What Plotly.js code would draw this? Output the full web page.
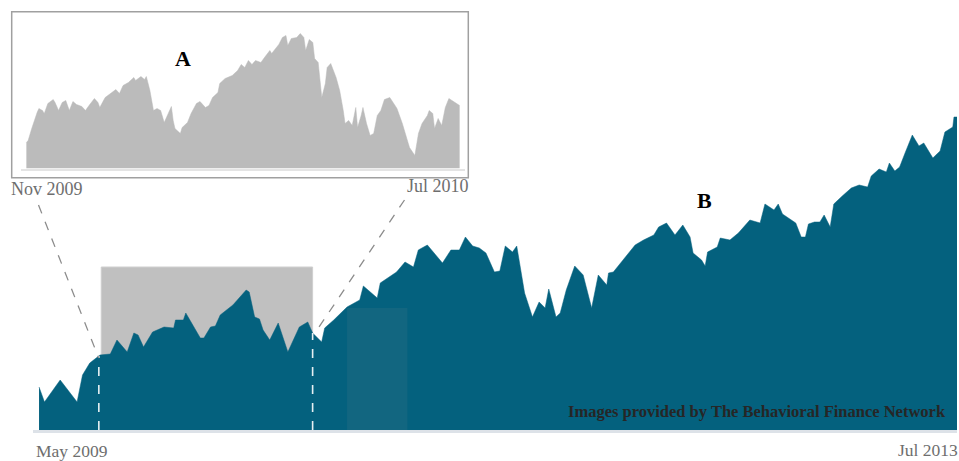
<!DOCTYPE html>
<html>
<head>
<meta charset="utf-8">
<script src="https://cdn.plot.ly/plotly-3.0.1.min.js"></script>
<style>
  html, body { margin: 0; padding: 0; background: #ffffff; }
  #chart { width: 959px; height: 461px; }
</style>
</head>
<body>
<div id="chart"></div>
<script>
// ---------- DATA ----------
const mainDates = [
  '2009-05-03','2009-05-12','2009-06-07','2009-07-05','2009-07-14','2009-07-26','2009-08-12','2009-08-29','2009-09-09','2009-09-26',
  '2009-10-07','2009-10-14','2009-10-23','2009-11-07','2009-11-26','2009-12-12','2009-12-15','2009-12-28','2010-01-01','2010-01-12',
  '2010-01-25','2010-01-31','2010-02-11','2010-02-19','2010-02-27','2010-03-20','2010-04-11','2010-04-16','2010-04-25','2010-05-03',
  '2010-05-09','2010-05-20','2010-06-03','2010-06-19','2010-07-08','2010-07-22','2010-07-30','2010-08-14','2010-08-19','2010-09-03',
  '2010-09-25','2010-10-16','2010-10-22','2010-11-14','2010-11-19','2010-12-16','2010-12-30','2011-01-13','2011-01-21','2011-02-05',
  '2011-03-02','2011-03-16','2011-03-30','2011-04-09','2011-04-21','2011-05-02','2011-05-13','2011-05-27','2011-06-05','2011-06-14',
  '2011-06-26','2011-07-03','2011-07-16','2011-07-29','2011-08-09','2011-08-19','2011-08-25','2011-09-06','2011-09-13','2011-09-23',
  '2011-10-07','2011-10-21','2011-11-04','2011-11-15','2011-11-29','2011-12-02','2011-12-10','2011-12-26','2012-01-15','2012-01-29',
  '2012-02-15','2012-02-23','2012-03-07','2012-03-21','2012-04-03','2012-04-15','2012-04-20','2012-05-04','2012-05-10','2012-05-14',
  '2012-05-30','2012-06-04','2012-06-20','2012-07-04','2012-07-23','2012-08-09','2012-08-17','2012-09-01','2012-09-08','2012-09-15',
  '2012-10-07','2012-10-16','2012-10-23','2012-10-28','2012-11-07','2012-11-16','2012-11-23','2012-12-03','2012-12-09','2012-12-23',
  '2013-01-07','2013-01-20','2013-02-03','2013-02-09','2013-02-22','2013-03-06','2013-03-11','2013-03-20','2013-03-28','2013-04-06',
  '2013-04-18','2013-04-29','2013-05-07','2013-05-22','2013-06-03','2013-06-11','2013-06-24','2013-06-26','2013-07-01'
];
const mainValues = [
  43,28,50,28,55,67,75,76,90,78,
  97,95,83,98,103,102,110,110,117,105,
  92,92,103,104,115,125,140,138,113,111,
  100,90,107,78,103,108,97,88,102,110,
  123,130,144,132,147,158,168,163,180,185,
  167,180,180,193,184,182,177,158,159,184,
  178,184,137,113,128,122,141,113,117,140,
  164,155,122,155,145,157,158,170,185,190,
  195,203,207,195,205,193,177,170,164,178,
  183,192,190,197,210,207,226,220,226,216,
  207,193,193,206,208,208,215,203,226,234,
  242,245,243,254,261,258,267,259,263,277,
  295,284,287,272,279,298,303,313,313
];

const insetDates = [
  '2009-11-01','2009-11-02','2009-11-04','2009-11-05','2009-11-07','2009-11-08','2009-11-10','2009-11-11','2009-11-13','2009-11-16',
  '2009-11-17','2009-11-19','2009-11-21','2009-11-23','2009-11-25','2009-11-27','2009-11-29','2009-12-02','2009-12-04','2009-12-06',
  '2009-12-09','2009-12-11','2009-12-12','2009-12-15','2009-12-18','2009-12-21','2009-12-23','2009-12-25','2009-12-28','2009-12-31',
  '2010-01-01','2010-01-04','2010-01-06','2010-01-07','2010-01-09','2010-01-11','2010-01-13','2010-01-15','2010-01-17','2010-01-19',
  '2010-01-21','2010-01-22','2010-01-23','2010-01-26','2010-01-27','2010-01-30','2010-02-01','2010-02-04','2010-02-06','2010-02-09',
  '2010-02-11','2010-02-13','2010-02-16','2010-02-17','2010-02-20','2010-02-24','2010-02-27','2010-03-01','2010-03-03','2010-03-05',
  '2010-03-07','2010-03-09','2010-03-12','2010-03-14','2010-03-17','2010-03-18','2010-03-22','2010-03-24','2010-03-26','2010-03-27',
  '2010-03-29','2010-04-01','2010-04-03','2010-04-05','2010-04-06','2010-04-08','2010-04-10','2010-04-11','2010-04-13','2010-04-15',
  '2010-04-17','2010-04-18','2010-04-20','2010-04-23','2010-04-25','2010-04-27','2010-04-28','2010-04-30','2010-05-02','2010-05-04',
  '2010-05-05','2010-05-07','2010-05-08','2010-05-10','2010-05-12','2010-05-14','2010-05-16','2010-05-18','2010-05-20','2010-05-23',
  '2010-05-25','2010-05-27','2010-05-30','2010-06-01','2010-06-03','2010-06-06','2010-06-08','2010-06-10','2010-06-13','2010-06-14',
  '2010-06-16','2010-06-17','2010-06-19','2010-06-21','2010-06-23','2010-06-25','2010-06-29','2010-07-01'
];
const insetValues = [
  26,28,40,46,56,60,58,55,65,69,
  66,58,66,68,58,67,64,62,58,63,
  70,66,61,71,75,79,75,83,86,91,
  88,92,89,92,78,58,60,58,46,55,
  62,48,40,35,41,46,55,65,67,61,
  63,71,76,85,90,93,98,104,101,108,
  104,108,106,111,118,115,124,131,133,123,
  130,131,135,131,118,129,126,110,106,71,
  85,101,105,91,78,58,45,48,43,61,
  41,53,61,45,33,35,53,58,69,71,
  66,60,45,33,21,13,35,45,53,58,
  55,40,50,43,61,70,65,63
];

const mainTickLabels = ['May 2009', 'Jul 2013'];
const insetTickLabels = ['Nov 2009', 'Jul 2010'];
const panelLabels = ['A', 'B'];
const creditText = 'Images provided by The Behavioral Finance Network';

// zoom window / highlight periods
const zoomWindow = ['2009-08-10', '2010-07-30'];
const highlightWindow = ['2009-08-14', '2010-07-30'];
const highlightTop = 163;
const shadeWindow = ['2010-09-25', '2011-01-03'];
const shadeTop = 122;

// ---------- HELPERS ----------
const W = 959, H = 461;
const px = x => x / W;
const py = y => (H - y) / H;
function interp(dateStr) {
  const t = new Date(dateStr).getTime();
  for (let i = 0; i < mainDates.length - 1; i++) {
    const a = new Date(mainDates[i]).getTime(), b = new Date(mainDates[i + 1]).getTime();
    if (t >= a && t <= b) {
      return mainValues[i] + (mainValues[i + 1] - mainValues[i]) * (t - a) / (b - a);
    }
  }
  return mainValues[mainValues.length - 1];
}

const teal = '#04617e';
const serif = '"Liberation Serif", "Times New Roman", serif';

// ---------- TRACES ----------
const traces = [
  {
    type: 'scatter', mode: 'lines',
    x: mainDates, y: mainValues,
    fill: 'tozeroy', fillcolor: teal,
    line: { color: teal, width: 0.5, shape: 'linear' },
    hoverinfo: 'skip', xaxis: 'x', yaxis: 'y'
  },
  {
    type: 'scatter', mode: 'lines',
    x: insetDates, y: insetValues,
    fill: 'tozeroy', fillcolor: '#bbbbbb',
    line: { color: '#bbbbbb', width: 0.5 },
    hoverinfo: 'skip', xaxis: 'x2', yaxis: 'y2'
  }
];

// ---------- SHAPES ----------
const shapes = [
  { type: 'rect', layer: 'below', xref: 'x', yref: 'y',
    x0: highlightWindow[0], x1: highlightWindow[1], y0: 0, y1: highlightTop,
    fillcolor: '#c0c0c0', line: { width: 1, color: '#cfcfcf' } },
  { type: 'rect', layer: 'above', xref: 'x', yref: 'y',
    x0: shadeWindow[0], x1: shadeWindow[1], y0: 0, y1: shadeTop,
    fillcolor: 'rgba(150,150,150,0.10)', line: { width: 0 } },
  { type: 'line', layer: 'above', xref: 'x', yref: 'y',
    x0: zoomWindow[0], x1: zoomWindow[0], y0: 0, y1: interp(zoomWindow[0]),
    line: { color: 'rgba(255,255,255,0.9)', width: 1.6, dash: 'dash' } },
  { type: 'line', layer: 'above', xref: 'x', yref: 'y',
    x0: zoomWindow[1], x1: zoomWindow[1], y0: 0, y1: interp(zoomWindow[1]),
    line: { color: 'rgba(255,255,255,0.9)', width: 1.6, dash: 'dash' } },
  { type: 'line', xref: 'paper', yref: 'paper',
    x0: px(38.5), y0: py(205), x1: px(98.7), y1: py(358),
    line: { color: '#8c8c8c', width: 1.3, dash: 'dash' } },
  { type: 'line', xref: 'paper', yref: 'paper',
    x0: px(404.5), y0: py(200), x1: px(315), y1: py(333),
    line: { color: '#8c8c8c', width: 1.3, dash: 'dash' } },
  { type: 'rect', xref: 'paper', yref: 'paper',
    x0: px(11.7), x1: px(468.3), y0: py(177.7), y1: py(11.7),
    fillcolor: 'rgba(0,0,0,0)', line: { color: '#a0a0a0', width: 1.5 } }
];

// ---------- ANNOTATIONS ----------
const annotations = [
  { text: mainTickLabels[0], xref: 'paper', yref: 'paper', x: px(34), y: py(451),
    xanchor: 'left', yanchor: 'middle', showarrow: false,
    font: { family: serif, size: 17.5, color: '#6e6e6e' } },
  { text: mainTickLabels[1], xref: 'paper', yref: 'paper', x: px(960), y: py(450),
    xanchor: 'right', yanchor: 'middle', showarrow: false,
    font: { family: serif, size: 17.5, color: '#6e6e6e' } },
  { text: insetTickLabels[0], xref: 'paper', yref: 'paper', x: px(9), y: py(189),
    xanchor: 'left', yanchor: 'middle', showarrow: false,
    font: { family: serif, size: 18, color: '#6e6e6e' } },
  { text: insetTickLabels[1], xref: 'paper', yref: 'paper', x: px(471), y: py(186),
    xanchor: 'right', yanchor: 'middle', showarrow: false,
    font: { family: serif, size: 18, color: '#6e6e6e' } },
  { text: '<b>' + panelLabels[0] + '</b>', xref: 'paper', yref: 'paper', x: px(183), y: py(59),
    xanchor: 'center', yanchor: 'middle', showarrow: false,
    font: { family: serif, size: 22, color: '#000000' } },
  { text: '<b>' + panelLabels[1] + '</b>', xref: 'paper', yref: 'paper', x: px(704.5), y: py(200.5),
    xanchor: 'center', yanchor: 'middle', showarrow: false,
    font: { family: serif, size: 22, color: '#000000' } },
  { text: '<b>' + creditText + '</b>', xref: 'paper', yref: 'paper', x: px(948), y: py(411),
    xanchor: 'right', yanchor: 'middle', showarrow: false,
    font: { family: serif, size: 16.5, color: '#262626' } }
];

// ---------- LAYOUT ----------
const layout = {
  width: W, height: H,
  margin: { l: 0, r: 0, t: 0, b: 0 },
  paper_bgcolor: '#ffffff', plot_bgcolor: 'rgba(0,0,0,0)',
  showlegend: false,
  xaxis: {
    type: 'date', domain: [px(33), px(957)],
    range: ['2009-04-23', '2013-07-01'],
    showgrid: false, zeroline: false, showticklabels: false, ticks: '',
    showline: true, linecolor: '#dde2e8', linewidth: 3
  },
  yaxis: {
    domain: [py(430), py(10)], range: [0, 420],
    showgrid: false, zeroline: false, showticklabels: false, showline: false
  },
  xaxis2: {
    type: 'date', domain: [px(21), px(465)], anchor: 'y2',
    range: ['2009-10-29', '2010-07-04'],
    showgrid: false, zeroline: false, showticklabels: false,
    showline: true, linecolor: '#e4e4e4', linewidth: 2,
    ticks: 'inside', ticklen: 5, tickwidth: 1, tickcolor: '#e0e0e0',
    tickvals: ['2009-10-29', '2010-07-04']
  },
  yaxis2: {
    domain: [py(168.5), py(20)], range: [0, 148.5], anchor: 'x2',
    showgrid: false, zeroline: false, showticklabels: false, showline: false
  },
  shapes: shapes,
  annotations: annotations
};

Plotly.newPlot('chart', traces, layout, { staticPlot: true, displayModeBar: false });
</script>
</body>
</html>
